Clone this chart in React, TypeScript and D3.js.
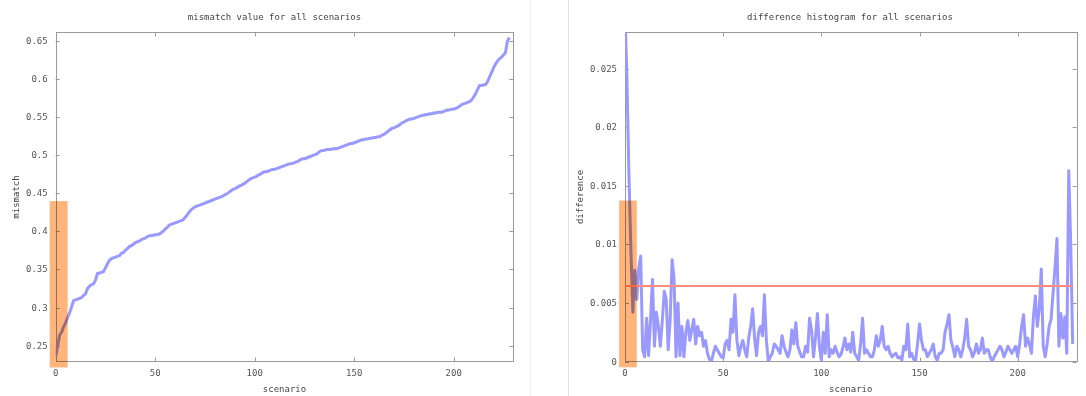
import React, { useRef, useEffect } from "react";
import * as d3 from "d3";

// sorted mismatch value per scenario
const mismatch = [
  0.236, 0.25, 0.264, 0.268, 0.275, 0.28, 0.287, 0.293, 0.301, 0.309,
  0.31, 0.311, 0.312, 0.313, 0.316, 0.318, 0.325, 0.328, 0.33, 0.331,
  0.336, 0.345, 0.345, 0.346, 0.347, 0.352, 0.357, 0.362, 0.364, 0.365,
  0.366, 0.367, 0.368, 0.371, 0.372, 0.375, 0.377, 0.38, 0.381, 0.383,
  0.385, 0.386, 0.387, 0.389, 0.39, 0.391, 0.393, 0.394, 0.394, 0.395,
  0.395, 0.396, 0.396, 0.398, 0.4, 0.403, 0.405, 0.408, 0.409, 0.41,
  0.411, 0.412, 0.413, 0.414, 0.415, 0.418, 0.421, 0.425, 0.428, 0.43,
  0.432, 0.433, 0.434, 0.435, 0.436, 0.437, 0.438, 0.439, 0.44, 0.441,
  0.442, 0.443, 0.444, 0.445, 0.446, 0.448, 0.449, 0.451, 0.453, 0.4545,
  0.456, 0.457, 0.459, 0.46, 0.4615, 0.463, 0.465, 0.467, 0.469, 0.47,
  0.471, 0.472, 0.474, 0.475, 0.477, 0.478, 0.478, 0.479, 0.48, 0.481,
  0.481, 0.482, 0.483, 0.484, 0.485, 0.486, 0.487, 0.488, 0.4885, 0.489,
  0.49, 0.491, 0.492, 0.494, 0.495, 0.495, 0.496, 0.497, 0.498, 0.499,
  0.5, 0.501, 0.503, 0.505, 0.506, 0.506, 0.507, 0.507, 0.507, 0.508,
  0.508, 0.508, 0.509, 0.51, 0.511, 0.512, 0.513, 0.514, 0.515, 0.515,
  0.516, 0.517, 0.518, 0.519, 0.52, 0.52, 0.521, 0.521, 0.522, 0.522,
  0.523, 0.523, 0.524, 0.524, 0.526, 0.527, 0.529, 0.531, 0.533, 0.535,
  0.5355, 0.537, 0.538, 0.54, 0.542, 0.543, 0.545, 0.546, 0.547, 0.547,
  0.548, 0.549, 0.55, 0.551, 0.552, 0.552, 0.553, 0.553, 0.554, 0.554,
  0.555, 0.555, 0.556, 0.556, 0.556, 0.557, 0.558, 0.559, 0.559, 0.56,
  0.56, 0.561, 0.562, 0.564, 0.566, 0.567, 0.568, 0.569, 0.57, 0.572,
  0.576, 0.58, 0.586, 0.591, 0.591, 0.592, 0.592, 0.596, 0.602, 0.608,
  0.614, 0.619, 0.623, 0.626, 0.628, 0.631, 0.634, 0.6495, 0.654,
];

// difference per scenario (right panel)
const difference = [
  0.03, 0.024, 0.016, 0.0095, 0.0042, 0.0078, 0.0053, 0.008, 0.009, 0.001,
  0.0004, 0.0037, 0.0005, 0.0036, 0.007, 0.0013, 0.0042, 0.003, 0.0013, 0.0035,
  0.006, 0.0053, 0.001, 0.0036, 0.0087, 0.007, 0.0004, 0.005, 0.0005, 0.003,
  0.0004, 0.0025, 0.0035, 0.0018, 0.0027, 0.0036, 0.0015, 0.003, 0.0022, 0.0025,
  0.0013, 0.0018, 0.0007, 0.0002, 0.0, 0.0007, 0.0013, 0.001, 0.0007, 0.0004,
  0.0003, 0.0015, 0.0018, 0.001, 0.0036, 0.0025, 0.0057, 0.0018, 0.0005, 0.0013,
  0.0018, 0.001, 0.0004, 0.002, 0.003, 0.0045, 0.002, 0.0005, 0.0025, 0.003,
  0.0022, 0.0057, 0.0018, 0.0, 0.0004, 0.0007, 0.0015, 0.0013, 0.001, 0.0007,
  0.0022, 0.0013, 0.0008, 0.0004, 0.001, 0.0027, 0.0015, 0.0033, 0.0013, 0.0008,
  0.0004, 0.0004, 0.0013, 0.0008, 0.0037, 0.0027, 0.0004, 0.002, 0.0041, 0.0013,
  0.0001, 0.0025, 0.0007, 0.004, 0.0004, 0.001, 0.0007, 0.0013, 0.0008, 0.0004,
  0.0006, 0.0012, 0.002, 0.001, 0.0015, 0.0008, 0.0025, 0.0007, 0.0004, 0.0001,
  0.0015, 0.0037, 0.0007, 0.001, 0.0007, 0.0004, 0.0004, 0.001, 0.0022, 0.0013,
  0.0018, 0.003, 0.0013, 0.001, 0.0013, 0.0007, 0.0004, 0.0006, 0.0007, 0.0003,
  0.0004, 0.0001, 0.0013, 0.001, 0.0032, 0.0004, 0.0007, 0.0002, 0.0001, 0.0015,
  0.0032, 0.0018, 0.001, 0.001, 0.0004, 0.0007, 0.001, 0.0015, 0.0004, 0.0001,
  0.0007, 0.0007, 0.001, 0.0025, 0.0032, 0.004, 0.0018, 0.0012, 0.0004, 0.0013,
  0.001, 0.0004, 0.001, 0.002, 0.0036, 0.0013, 0.001, 0.0004, 0.0008, 0.0015,
  0.0007, 0.001, 0.002, 0.0007, 0.001, 0.001, 0.0004, 0.0, 0.0004, 0.0007,
  0.001, 0.0013, 0.001, 0.0004, 0.0008, 0.0013, 0.001, 0.0007, 0.001, 0.0013,
  0.0004, 0.0015, 0.003, 0.004, 0.0013, 0.002, 0.0015, 0.0007, 0.0038, 0.0056,
  0.003, 0.0045, 0.0079, 0.0013, 0.0004, 0.0015, 0.003, 0.0036, 0.0058, 0.008,
  0.0105, 0.0013, 0.0041, 0.002, 0.0038, 0.0007, 0.0163, 0.0101, 0.0015,
];

const differenceThreshold = 0.00645;

const scenarioTicks = [0, 50, 100, 150, 200];
const mismatchTicks = [0.25, 0.3, 0.35, 0.4, 0.45, 0.5, 0.55, 0.6, 0.65];
const differenceTicks = [0, 0.005, 0.01, 0.015, 0.02, 0.025];

// highlighted block of first scenarios
const highlightScenarios = [-3, 6];
const mismatchHighlight = [0.2215, 0.4395];
const differenceHighlight = [-0.0005, 0.01375];

const FONT = "'DejaVu Sans Mono', monospace";

interface Panel {
  title: string;
  titleX: number;
  yLabel: string;
  yLabelX: number;
  values: number[];
  xRange: [number, number];
  yDomain: [number, number];
  yTicks: number[];
  highlight: number[];
  threshold?: number;
  id: string;
}

export default function App() {
  const ref = useRef<SVGSVGElement>(null);

  useEffect(() => {
    if (!ref.current) return;
    const svg = d3.select(ref.current);
    svg.selectAll("*").remove();

    // faint separators between the two images
    svg.append("line").attr("x1", 530.5).attr("x2", 530.5).attr("y1", 0).attr("y2", 396)
      .attr("stroke", "#eeeeee");
    svg.append("line").attr("x1", 568.5).attr("x2", 568.5).attr("y1", 0).attr("y2", 396)
      .attr("stroke", "#e2e2e2");

    const panels: Panel[] = [
      {
        id: "mm", title: "mismatch value for all scenarios", titleX: 274.5,
        yLabel: "mismatch", yLabelX: 16, values: mismatch,
        xRange: [55.7, 513.4], yDomain: [0.2293, 0.6605], yTicks: mismatchTicks,
        highlight: mismatchHighlight,
      },
      {
        id: "df", title: "difference histogram for all scenarios", titleX: 850,
        yLabel: "difference", yLabelX: 580, values: difference,
        xRange: [625, 1076.6], yDomain: [0, 0.0281], yTicks: differenceTicks,
        highlight: differenceHighlight, threshold: differenceThreshold,
      },
    ];

    panels.forEach(p => {
      const top = 32.5, bottom = 361.5;
      const x = d3.scaleLinear().domain([0, 230]).range(p.xRange);
      const y = d3.scaleLinear().domain(p.yDomain).range([bottom, top]);
      const [left, right] = p.xRange;
      const fmt = d3.format("~g");
      const g = svg.append("g");

      g.append("defs").append("clipPath").attr("id", "clip-" + p.id)
        .append("rect").attr("x", left).attr("y", top)
        .attr("width", right - left).attr("height", bottom - top);

      // frame
      g.append("rect")
        .attr("x", Math.round(left) + 0.5).attr("y", top)
        .attr("width", Math.round(right) - Math.round(left)).attr("height", bottom - top)
        .attr("fill", "none").attr("stroke", "#9a9a9a").attr("stroke-width", 1);

      // mirrored inward ticks
      scenarioTicks.forEach(t => {
        const tx = Math.round(x(t)) + 0.5;
        g.append("line").attr("x1", tx).attr("x2", tx).attr("y1", bottom).attr("y2", bottom - 4)
          .attr("stroke", "#9a9a9a");
        g.append("line").attr("x1", tx).attr("x2", tx).attr("y1", top).attr("y2", top + 4)
          .attr("stroke", "#9a9a9a");
        g.append("text").attr("x", x(t)).attr("y", 376)
          .attr("text-anchor", "middle").text(fmt(t))
          .style("font-family", FONT).style("font-size", "9px").attr("fill", "#555");
      });
      p.yTicks.forEach(t => {
        const ty = Math.round(y(t)) + 0.5;
        g.append("line").attr("x1", left).attr("x2", left + 4).attr("y1", ty).attr("y2", ty)
          .attr("stroke", "#9a9a9a");
        g.append("line").attr("x1", right).attr("x2", right - 4).attr("y1", ty).attr("y2", ty)
          .attr("stroke", "#9a9a9a");
        g.append("text").attr("x", left - 8).attr("y", y(t) + 3)
          .attr("text-anchor", "end").text(fmt(t))
          .style("font-family", FONT).style("font-size", "9px").attr("fill", "#555");
      });

      // title and axis labels
      g.append("text").attr("x", p.titleX).attr("y", 20).attr("text-anchor", "middle")
        .text(p.title).style("font-family", FONT).style("font-size", "9px").attr("fill", "#444");
      g.append("text").attr("x", (left + right) / 2).attr("y", 392).attr("text-anchor", "middle")
        .text("scenario").style("font-family", FONT).style("font-size", "9px").attr("fill", "#444");
      g.append("text")
        .attr("transform", `translate(${p.yLabelX + 3},${197}) rotate(-90)`)
        .attr("text-anchor", "middle")
        .text(p.yLabel).style("font-family", FONT).style("font-size", "9px").attr("fill", "#444");

      // data line
      const line = d3.line<number>().x((_, i) => x(i)).y(d => y(d));
      g.append("path").datum(p.values)
        .attr("clip-path", `url(#clip-${p.id})`)
        .attr("d", line)
        .attr("fill", "none")
        .attr("stroke", "#9999ff")
        .attr("stroke-width", 3)
        .attr("stroke-linejoin", "round");

      if (p.threshold != null) {
        g.append("line")
          .attr("x1", x(0)).attr("x2", x(p.values.length - 1))
          .attr("y1", y(p.threshold)).attr("y2", y(p.threshold))
          .attr("stroke", "#ff8c80").attr("stroke-width", 2);
      }

      // highlighted first scenarios
      g.append("rect")
        .attr("x", x(highlightScenarios[0]))
        .attr("width", x(highlightScenarios[1]) - x(highlightScenarios[0]))
        .attr("y", y(p.highlight[1]))
        .attr("height", y(p.highlight[0]) - y(p.highlight[1]))
        .attr("fill", "#ffb47c")
        .style("mix-blend-mode", "multiply");
    });
  }, []);

  return (
    <svg ref={ref} width={1086} height={396}
      style={{ position: "absolute", left: 0, top: 0, background: "#fff" }} />
  );
}
